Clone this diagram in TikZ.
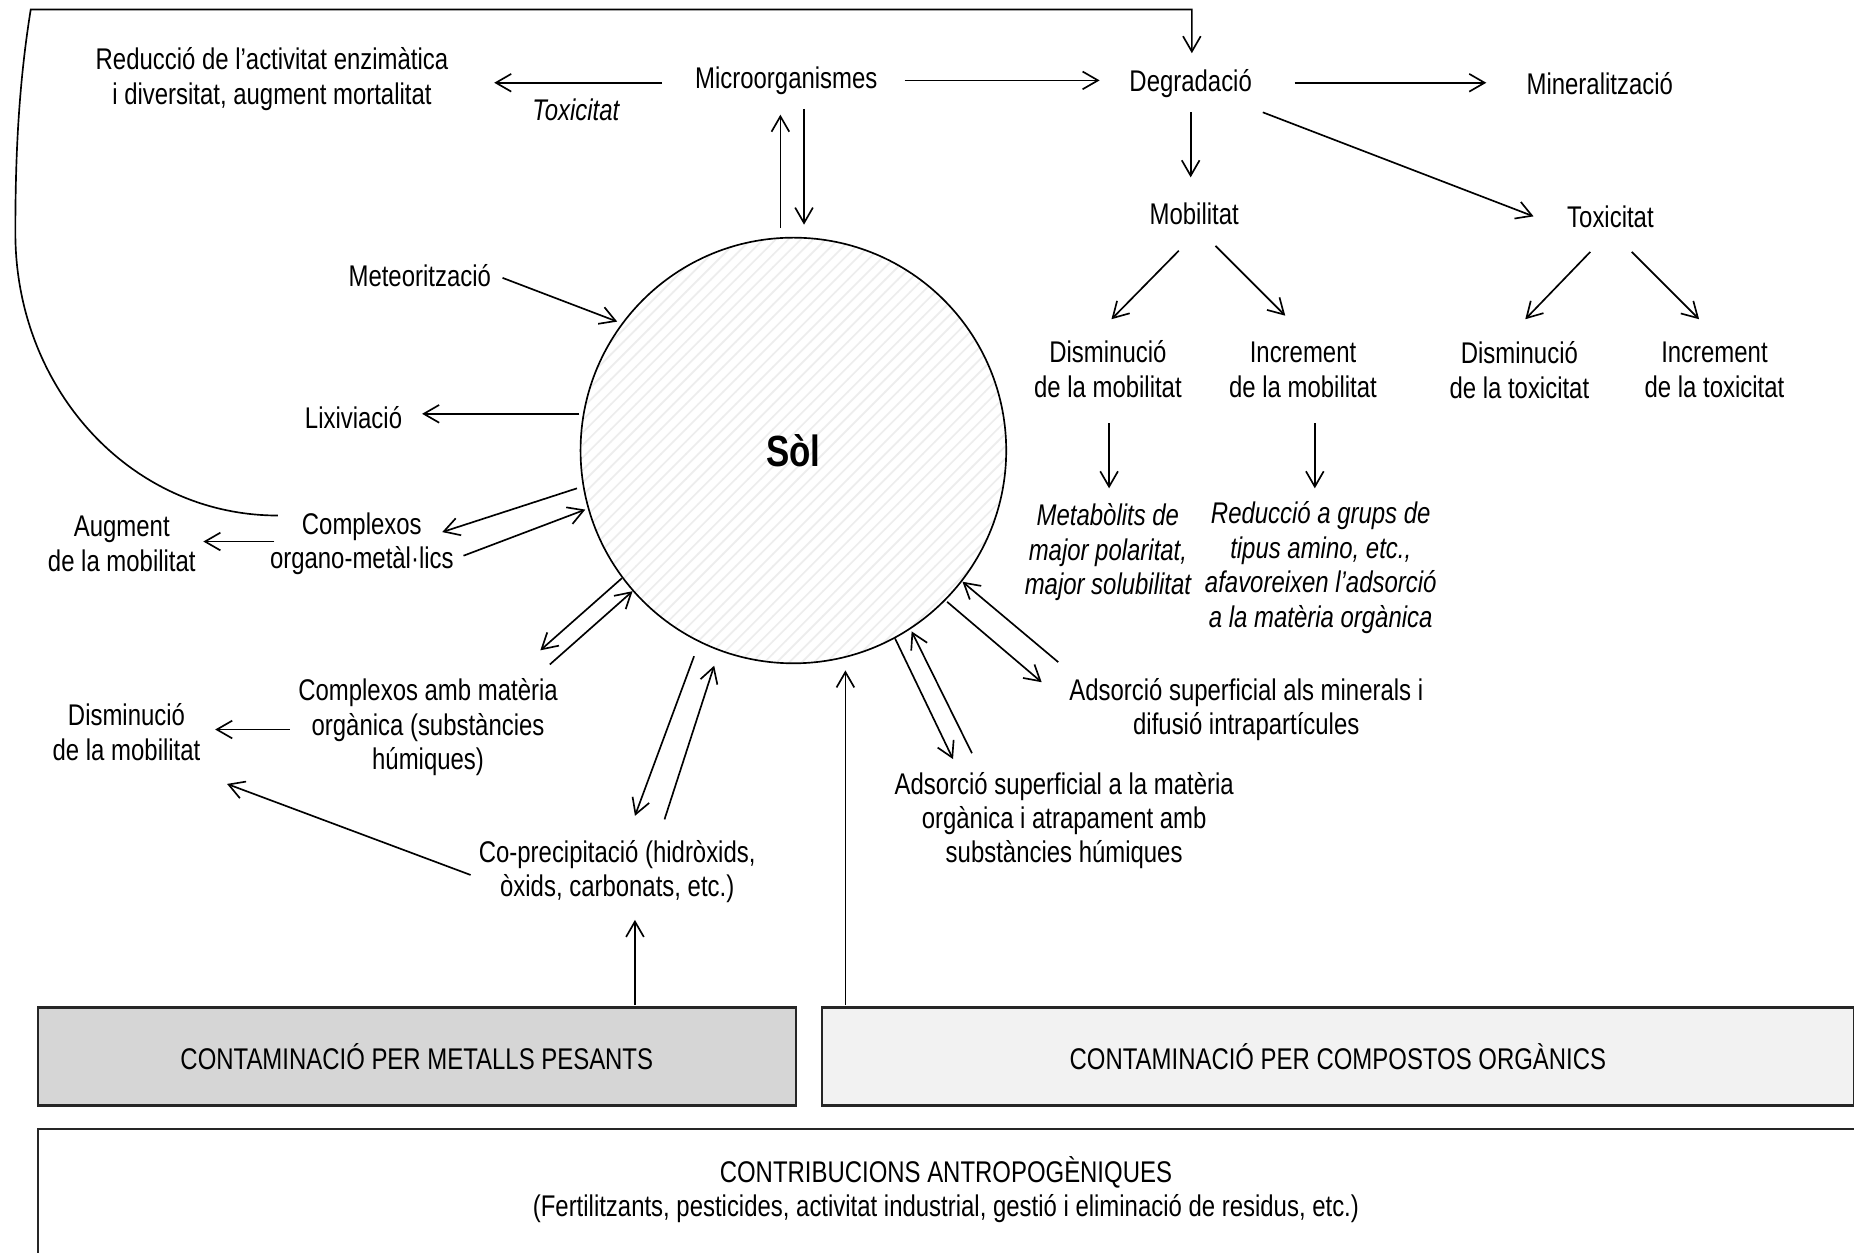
\documentclass[tikz,border=0pt]{standalone}
\usepackage{fontspec}
\setmainfont{Liberation Sans}[FakeStretch=0.8]
\usetikzlibrary{arrows.meta,patterns}
\begin{document}
\begin{tikzpicture}[x=0.1mm,y=-0.1mm,line width=0.4pt,
  lbl/.style={align=center,inner sep=0pt,font=\fontsize{7.2pt}{8.3pt}\selectfont},
  itl/.style={align=center,inner sep=0pt,font=\fontsize{7.2pt}{8.3pt}\selectfont\itshape},
  arr/.style={-{Straight Barb[length=1.3mm,width=1.5mm]}},
  cbox/.style={draw=black!85,line width=0.6pt,inner sep=0pt,align=center,
    font=\fontsize{7.2pt}{8.3pt}\selectfont}]
\clip (0,0) rectangle (1568,1059);
\fill[white] (0,0) rectangle (1568,1059);

% soil circle
\node[circle,draw,minimum size=36mm,inner sep=0pt,pattern=north east lines,pattern color=black!7,
  font=\fontsize{10.5pt}{12pt}\selectfont\bfseries] (sol) at (671,381) {Sòl};

% text nodes
\node[lbl] (red) at (230,67) {Reducció de l’activitat enzimàtica\\i diversitat, augment mortalitat};
\node[itl] (tox1) at (487,93) {Toxicitat};
\node[lbl] (micro) at (665,68) {Microorganismes};
\node[lbl] (degr) at (1007,71) {Degradació};
\node[lbl] (miner) at (1353,71) {Mineralització};
\node[lbl] (mob) at (1010,181) {Mobilitat};
\node[lbl] (toxi) at (1362,183) {Toxicitat};
\node[lbl] (dmob) at (937,312) {Disminució\\de la mobilitat};
\node[lbl] (imob) at (1102,313) {Increment\\de la mobilitat};
\node[lbl] (dtox) at (1285,313) {Disminució\\de la toxicitat};
\node[lbl] (itox) at (1450,313) {Increment\\de la toxicitat};
\node[itl] (metab) at (937,467) {Metabòlits de\\major polaritat,\\major solubilitat};
\node[itl] (reduc) at (1117,480) {Reducció a grups de\\tipus amino, etc.,\\afavoreixen l’adsorció\\a la matèria orgànica};
\node[lbl] (meteo) at (355,233) {Meteorització};
\node[lbl] (lixi) at (299,353) {Lixiviació};
\node[lbl] (compl) at (306,460) {Complexos\\organo-metàl·lics};
\node[lbl] (augm) at (103,460) {Augment\\de la mobilitat};
\node[lbl] (complmo) at (362,615) {Complexos amb matèria\\orgànica (substàncies\\húmiques)};
\node[lbl] (dism) at (107,619) {Disminució\\de la mobilitat};
\node[lbl] (coprec) at (522,737) {Co-precipitació (hidròxids,\\òxids, carbonats, etc.)};
\node[lbl] (ads1) at (1054,600) {Adsorció superficial als minerals i\\difusió intrapartícules};
\node[lbl] (ads2) at (900,694) {Adsorció superficial a la matèria\\orgànica i atrapament amb\\substàncies húmiques};

% boxes
\node[cbox,fill=black!16,minimum width=64.1mm,minimum height=8.3mm] (metal) at (352.5,893.5)
  {CONTAMINACIÓ PER METALLS PESANTS};
\node[cbox,fill=black!5,minimum width=87.3mm,minimum height=8.3mm] (organ) at (1131.5,893.5)
  {CONTAMINACIÓ PER COMPOSTOS ORGÀNICS};
\node[cbox,fill=white,minimum width=157.6mm,minimum height=11.4mm] (antro) at (820,1012)
  {};
\node[lbl] (antrot) at (800,1006) {CONTRIBUCIONS ANTROPOGÈNIQUES\\(Fertilitzants, pesticides, activitat industrial, gestió i eliminació de residus, etc.)};

% feedback curve from organo-metal complexes to degradation
\draw[arr] (235,436) .. controls (110,436) and (12,328) .. (13,195)
  .. controls (13,130) and (16,70) .. (26,8) -- (1008,8) -- (1008,45);

% top row
\draw[arr] (560,70) -- (418,70);
\draw[arr] (765,68) -- (930,68);
\draw[arr] (1095,70) -- (1257,70);
\draw[arr] (1007,95) -- (1007,150);
\draw[arr] (1068,95) -- (1297,183);
\draw[arr] (997,212) -- (940,270);
\draw[arr] (1028,208) -- (1087,267);
\draw[arr] (1345,213) -- (1290,270);
\draw[arr] (1380,213) -- (1437,270);
\draw[arr] (938,358) -- (938,413);
\draw[arr] (1112,358) -- (1112,413);

% microorganisms <-> soil
\draw[arr] (660,193) -- (660,97);
\draw[arr] (680,92) -- (680,190);

% left side
\draw[arr] (425,235) -- (522,272);
\draw[arr] (490,350) -- (357,350);
\draw[arr] (488,413) -- (374,450);
\draw[arr] (392,470) -- (495,431);
\draw[arr] (232,458) -- (172,458);
\draw[arr] (526,489) -- (457,550);
\draw[arr] (465,562) -- (535,500);
\draw[arr] (245,617) -- (182,617);
\draw[arr] (398,740) -- (192,663);
\draw[arr] (587,555) -- (537,690);
\draw[arr] (562,693) -- (604,563);
\draw[arr] (537,850) -- (537,778);

% right side
\draw[arr] (715,850) -- (715,567);
\draw[arr] (757,540) -- (806,642);
\draw[arr] (822,637) -- (771,534);
\draw[arr] (801,509) -- (881,577);
\draw[arr] (895,560) -- (814,492);
\end{tikzpicture}
\end{document}
